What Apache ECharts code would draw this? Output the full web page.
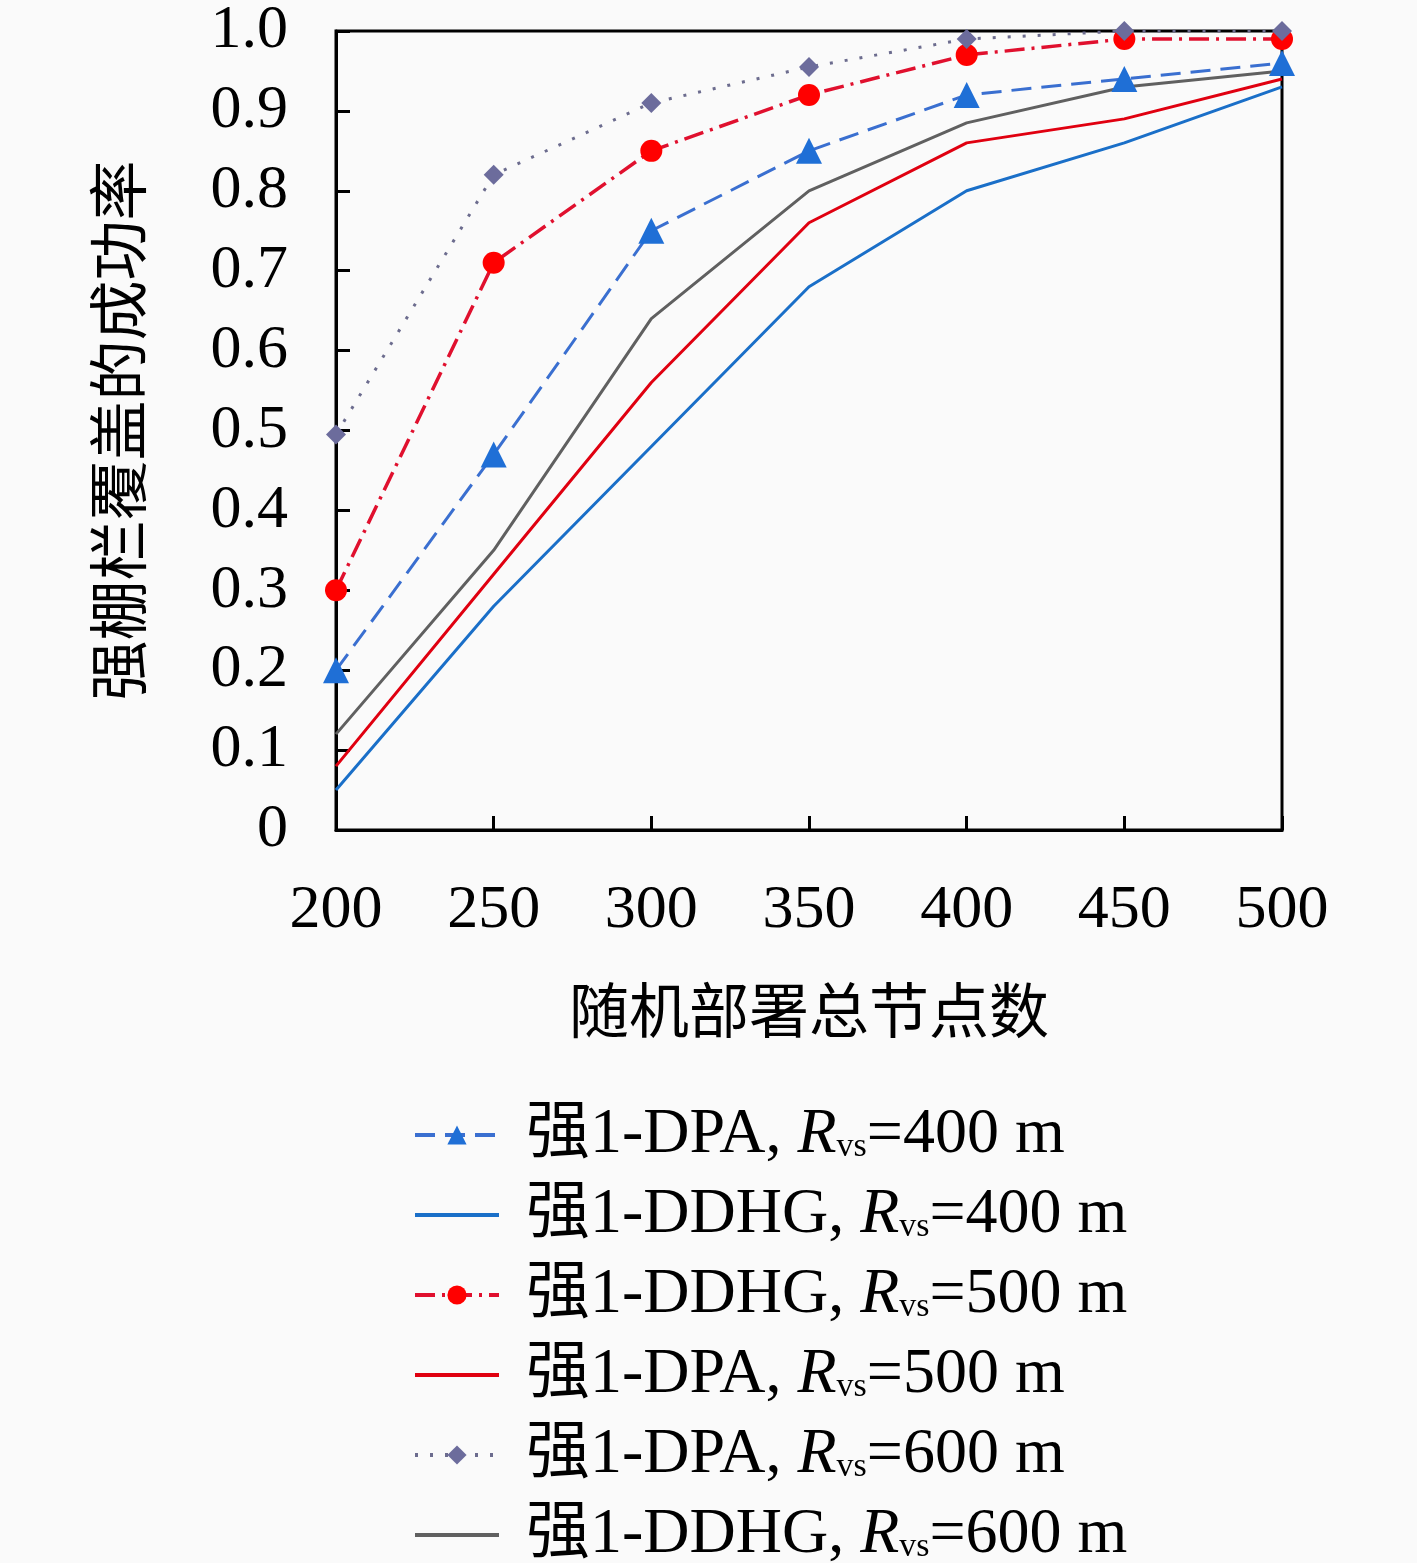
<!DOCTYPE html>
<html><head><meta charset="utf-8">
<script src="https://cdn.jsdelivr.net/npm/echarts@6/dist/echarts.min.js"></script>
<style>html,body{margin:0;padding:0;background:#fafafa}#c{width:1417px;height:1563px}</style>
</head><body><div id="c"></div>
<script>
const categories = ['200','250','300','350','400','450','500'];
const dpa400 = [0.20, 0.47, 0.75, 0.85, 0.92, 0.94, 0.96];
const ddhg400 = [0.05, 0.28, 0.48, 0.68, 0.80, 0.86, 0.93];
const ddhg500 = [0.30, 0.71, 0.85, 0.92, 0.97, 0.99, 0.99];
const dpa500 = [0.08, 0.32, 0.56, 0.76, 0.86, 0.89, 0.94];
const dpa600 = [0.495, 0.82, 0.91, 0.955, 0.99, 1.0, 1.0];
const ddhg600 = [0.12, 0.35, 0.64, 0.80, 0.885, 0.93, 0.95];
const yTicks = ['0','0.1','0.2','0.3','0.4','0.5','0.6','0.7','0.8','0.9','1.0'];
const names = ['强1-DPA, Rvs=400 m','强1-DDHG, Rvs=400 m','强1-DDHG, Rvs=500 m','强1-DPA, Rvs=500 m','强1-DPA, Rvs=600 m','强1-DDHG, Rvs=600 m'];
const solidNames = [names[1], names[3], names[5]];

const serif = '"Liberation Serif", "DejaVu Serif", "Noto Sans CJK SC", serif';
const cjk = '"Noto Sans CJK SC", sans-serif';
const chart = echarts.init(document.getElementById('c'));
const mk = (name, data, color, lineType, width, symbol, size, symColor) => ({
  name, type: 'line', data,
  symbol: symbol || 'none', symbolSize: size || 0, showSymbol: !!symbol,
  itemStyle: {color: symColor || color},
  lineStyle: {color, width, type: lineType},
  emphasis: {disabled: true}, animation: false, z: symbol ? 3 : 2
});
const legendOf = (n, i) => ({
  orient: 'vertical', left: 413, top: 1100 + i * 80, itemWidth: 84, itemHeight: 24, padding: 0,
  lineStyle: {width: 4},
  data: [solidNames.includes(n) ? {name: n, itemStyle: {opacity: 0}} : n],
  formatter: (n) => {
    const m = n.match(/^(.*), Rvs=(.*)$/);
    return '{a|' + m[1] + ', }{i|R}{s|vs}{a|=' + m[2] + '}';
  },
  textStyle: {
    fontFamily: serif, fontSize: 64, color: '#000', padding: [0,0,0,22],
    rich: {
      a: {fontFamily: serif, fontSize: 64, color: '#000', lineHeight: 58},
      i: {fontFamily: serif, fontSize: 64, fontStyle: 'italic', color: '#000', lineHeight: 58},
      s: {fontFamily: serif, fontSize: 34, color: '#000', lineHeight: 28, verticalAlign: 'bottom', padding: [30,0,0,0]}
    }
  }
});
chart.setOption({
  backgroundColor: '#fafafa',
  animation: false,
  grid: {left: 336, right: 135, top: 25, bottom: 733, show: true, borderColor: '#000', borderWidth: 3, backgroundColor: 'transparent'},
  xAxis: {
    type: 'category', data: categories, boundaryGap: false,
    axisLine: {lineStyle: {color: '#000', width: 3}},
    axisTick: {inside: true, length: 14, lineStyle: {color: '#000', width: 3}},
    axisLabel: {fontFamily: serif, fontSize: 62, color: '#000', margin: 50},
    name: '随机部署总节点数', nameLocation: 'middle', nameGap: 150,
    nameTextStyle: {fontFamily: cjk, fontSize: 60, color: '#000'}
  },
  yAxis: {
    type: 'value', min: 0, max: 1, interval: 0.1,
    axisLine: {show: true, lineStyle: {color: '#000', width: 3}},
    axisTick: {show: true, inside: true, length: 14, lineStyle: {color: '#000', width: 3}},
    splitLine: {show: false},
    axisLabel: {fontFamily: serif, fontSize: 62, color: '#000', margin: 48,
      formatter: (v) => yTicks[Math.round(v * 10)]},
    name: '强棚栏覆盖的成功率', nameLocation: 'middle', nameGap: 188, nameRotate: 90,
    nameTextStyle: {fontFamily: cjk, fontSize: 60, color: '#000'}
  },
  legend: names.map(legendOf),
  series: [
    mk(names[0], dpa400, '#3a6fd0', [20, 10], 3, 'triangle', 26, '#1f6fd6'),
    mk(names[1], ddhg400, '#1a6fc8', 'solid', 3),
    mk(names[2], ddhg500, '#e0102e', [20, 7, 3, 7], 3.5, 'circle', 22, '#ff0000'),
    mk(names[3], dpa500, '#e00010', 'solid', 3),
    mk(names[4], dpa600, '#6c6c8e', [3, 12], 3, 'diamond', 20, '#6c6c9c'),
    mk(names[5], ddhg600, '#606060', 'solid', 3)
  ]
});
</script></body></html>
